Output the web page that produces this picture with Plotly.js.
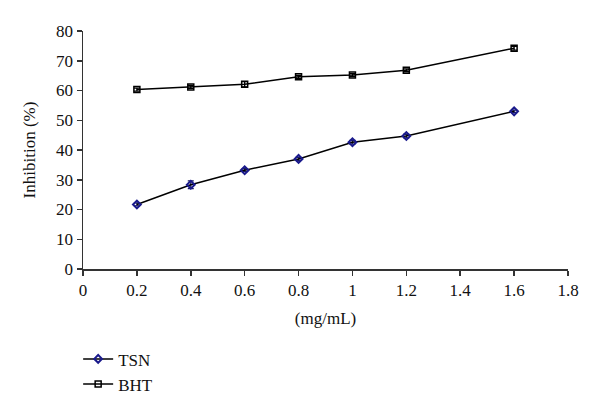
<!DOCTYPE html>
<html>
<head>
<meta charset="utf-8">
<script src="https://cdn.plot.ly/plotly-3.0.1.min.js"></script>
<style>html,body{margin:0;padding:0;background:#fff;}#chart{width:600px;height:418px;}</style>
</head>
<body>
<div id="chart"></div>
<script>
const conc = [0.2, 0.4, 0.6, 0.8, 1.0, 1.2, 1.6];
const tsnValues = [21.7, 28.3, 33.2, 37.0, 42.6, 44.7, 53.0];
const tsnErrors = [0.5, 1.3, 0.5, 0.5, 0.6, 0.6, 0.4];
const bhtValues = [60.3, 61.2, 62.1, 64.6, 65.2, 66.8, 74.2];
const bhtErrors = [0.5, 0.5, 0.9, 0.5, 0.5, 0.5, 0.6];
const xTicks = [0, 0.2, 0.4, 0.6, 0.8, 1, 1.2, 1.4, 1.6, 1.8];
const yTicks = [0, 10, 20, 30, 40, 50, 60, 70, 80];

const font = {family: 'Liberation Serif', size: 17, color: '#111'};

const traces = [
  {
    x: conc, y: tsnValues, name: 'TSN', type: 'scatter', mode: 'lines+markers',
    line: {color: '#000', width: 1.5},
    marker: {symbol: 'diamond-open', size: 6, color: '#1a1a8c', line: {width: 2, color: '#1a1a8c'}},
    error_y: {type: 'data', array: tsnErrors, visible: true, color: '#1a1a5c', thickness: 1.3, width: 3}
  },
  {
    x: conc, y: bhtValues, name: 'BHT', type: 'scatter', mode: 'lines+markers',
    line: {color: '#000', width: 1.5},
    marker: {symbol: 'square-open', size: 6, color: '#000', line: {width: 1.5, color: '#000'}},
    error_y: {type: 'data', array: bhtErrors, visible: true, color: '#000', thickness: 1.3, width: 3}
  }
];

const layout = {
  width: 600, height: 418,
  margin: {l: 83, r: 32, t: 31, b: 149},
  paper_bgcolor: '#fff', plot_bgcolor: '#fff',
  font: font,
  showlegend: true,
  legend: {x: -0.01, xanchor: 'left', y: -0.304, yanchor: 'top', font: font, bgcolor: 'rgba(0,0,0,0)', tracegroupgap: 0, itemwidth: 30},
  xaxis: {
    range: [0, 1.8], tickvals: xTicks, ticktext: xTicks.map(String),
    showgrid: false, zeroline: false, showline: true, linecolor: '#333', linewidth: 1.5,
    ticks: 'outside', ticklen: 5, tickcolor: '#333', tickwidth: 1.5,
    tickfont: font,
    title: {text: '(mg/mL)', font: font, standoff: 13}
  },
  yaxis: {
    range: [0, 80], tickvals: yTicks, ticktext: yTicks.map(String),
    showgrid: false, zeroline: false, showline: true, linecolor: '#333', linewidth: 1.5,
    ticks: 'outside', ticklen: 5, tickcolor: '#333', tickwidth: 1.5,
    tickfont: font,
    title: {text: 'Inhibition (%)', font: font, standoff: 16}
  }
};

Plotly.newPlot('chart', traces, layout, {displayModeBar: false, staticPlot: true});
</script>
</body>
</html>
